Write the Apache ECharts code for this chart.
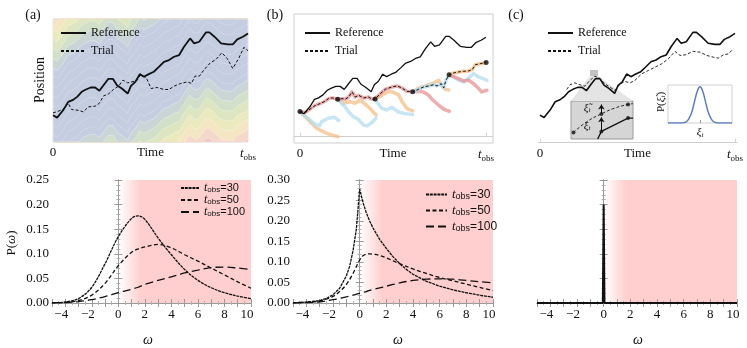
<!DOCTYPE html>
<html>
<head>
<meta charset="utf-8">
<script src="https://cdn.jsdelivr.net/npm/echarts@6/dist/echarts.min.js"></script>
<style>
html,body{margin:0;padding:0;background:#fff}
#main{width:747px;height:348px}
</style>
</head>
<body>
<div id="main"></div>
<script>
// reference path (time 0..100, position), shared by the three top panels
var refPath = [[0,21.7],[2.1,19.8],[5.2,25.8],[7.8,32.6],[10,34],[12.4,36.7],[14.7,40.8],[16.9,42.7],[19.3,44.3],[21.6,44.3],[23.8,41.6],[25.9,46.2],[28.4,51.4],[30.7,51.4],[32.8,46.2],[35.3,43.5],[38.3,39.4],[40,45.7],[42.2,48.9],[44.5,55.2],[46.6,53],[49.1,55.2],[51.7,57.1],[54.3,61.1],[56.9,65.2],[59.5,66.6],[62.1,69.3],[64.7,70.7],[67.2,77.4],[70.3,84.2],[72.4,80.2],[75,81.5],[78.4,89.1],[80.2,89.1],[82.8,85.6],[86.2,80.2],[89.7,79.3],[92.2,79.3],[94.5,83.4],[97.4,85.6],[100,88.3]];
var trialA = [[0,23.6],[2.6,25],[5.2,26.4],[7.8,31.5],[9.5,26.4],[12.9,25.8],[15.5,24.5],[18.1,28.5],[21.6,29.1],[23.8,31.5],[25.9,37.5],[28.4,39],[31,42.7],[33.6,45.4],[35.9,50.3],[38.3,48.1],[40.5,48.9],[43.1,50],[44.8,54.3],[47.8,52.4],[50.3,43.5],[53.4,44.3],[56.9,42.7],[59.5,42.7],[62.1,45.4],[65.5,47.6],[69,48.9],[71,47.6],[72.8,53.5],[75,53.5],[77.6,59],[80.7,64.4],[83.6,67.1],[86.6,72.6],[89.3,67.9],[92.2,59.8],[95.2,67.9],[97.9,77],[100,74.2]];
var trialC = [[13.7,42.6],[15.4,46.4],[17.9,48],[20.5,46.4],[23.1,45.3],[25.6,50],[28.2,53.5],[30.8,51.3],[33.3,47.2],[35.9,44.5],[38.5,41.8],[41,47.2],[43.6,49.1],[46.2,48],[48.7,50],[52.1,55.3],[55.6,58.1],[59,60.8],[62.4,63.5],[65.8,67.6],[69.2,73.6],[71.8,70.3],[74.4,70.8],[78.6,73.6],[82.1,73],[85.5,70.3],[88.9,68.9],[91.4,68.1],[94,70.8],[96.6,71.6],[99.1,75.7]];

// panel (b): branches from each resampling point
var seg1Red = [[0,21.7],[3,21],[5.5,24],[8,27],[11,29],[13.5,31],[15.5,33.5],[17.5,34],[20.3,32.8]];
var seg1Blue = [[0,21.7],[3.6,16.5],[6.3,12.7],[9,9.8],[10.5,9],[11.7,12.7],[15.2,15.8],[18.8,16.6],[20.8,13.6]];
var seg1Orange = [[0,21.7],[3.6,15.8],[6.3,11.3],[9,6.8],[11.7,4.4],[14.4,2.3],[17,0.8],[20.5,-0.7]];
var seg2Red = [[20.3,32.8],[22.6,33.3],[24.4,32.8],[26.2,34.8],[28,39.3],[29.7,34.8],[31.6,36.3],[34.2,33.9],[36.9,34.8],[38.7,32.8],[40.4,33]];
var seg2Orange = [[20.3,32.8],[23.3,29.2],[26.9,30.6],[29.6,29.2],[32.3,32.1],[34.9,28.6],[37.6,24.7],[40.9,18.7]];
var seg2Blue = [[20.3,32.8],[24.2,26.1],[26.5,20.8],[28.7,17.2],[31.3,14.9],[34.1,9.8],[36.2,8.9],[38.5,11.8],[40.9,15.8]];
var seg3Red = [[40.4,33],[43.2,37.8],[45.9,41.7],[49.5,43.8],[52.2,44.7],[54.8,42.9],[57.5,39.9],[60.6,39.5]];
var seg3Orange = [[40.4,33],[43,35.1],[45.7,38.1],[48,39.6],[49.5,39.3],[53,36.9],[54.8,31],[57.5,24.4],[60.6,22.3]];
var seg3Blue = [[40.4,33],[42.1,28.6],[43.9,24.7],[46.6,23.2],[49.3,25.6],[53,21.4],[56.6,19.9],[60.6,19]];
var seg4Blue = [[60.6,39.5],[63.8,41.7],[66.5,43.8],[69.2,44.7],[71.9,45.8],[73.7,44.7],[76,46.7],[77.3,42.9],[78.5,49.8],[80.2,54.7]];
var seg4Orange = [[60.6,39.5],[63.8,42.9],[67.4,44.7],[71,46.7],[74.6,49.8],[76.3,44.7],[78.1,41.7],[80,41]];
var seg4Red = [[60.6,39.5],[63.5,40],[66.5,39.3],[69.2,36.3],[71,32.8],[72.7,30.3],[74.6,27.4],[76.3,25.2],[78.1,23.2],[80.3,22]];
var seg5Orange = [[80.2,54.7],[82.6,56.3],[85.3,57.2],[88,57.8],[90.7,58.1],[92.8,59.6],[94.3,63.7],[96.9,64.6],[100.1,65.7]];
var seg5Blue = [[80.2,54.7],[82.6,52.7],[85.3,49.8],[88,48.3],[90.3,51.2],[93.4,55.7],[96.1,52.7],[100.5,49.8]];
var seg5Red = [[80.2,54.7],[85.3,51.2],[88,49.2],[90.7,49.8],[93.4,46.7],[96.1,42.3],[97.8,39.3],[100.5,40.8]];
var chosenB = [seg1Red, seg2Red, seg3Red, seg4Blue, seg5Orange];

// contour offsets of the panel (a) background (distance from the reference)
var lineLevels = [8, 16, 24, 32];
var bandLevels = [38, 46, 54, 62, 70, 78, 86];
var bandColors = ['#cad6d6', '#d2dfc9', '#dde6c1', '#ebeabf', '#f4e6c2', '#f4d8c9', '#f0cacb'];

// inset of (c)
var gaussX = [-6,-5,-4,-3,-2.5,-2,-1.5,-1,-0.5,0,0.5,1,1.5,2,2.5,3,4,5,6];
var gaussY = [0,0,0,0.01,0.04,0.14,0.32,0.61,0.88,1,0.88,0.61,0.32,0.14,0.04,0.01,0,0,0];
var schemTrial = [[0.4,1.7],[2.6,4.6],[4.9,6.6],[7,8.1],[9.2,9.1],[10,9.3]];
var schemRef = [[4.3,0],[4.9,2],[9.2,5.5],[10,5.5]];
var schemDots = [[0.4,1.7],[4.9,6.6],[9.2,9.1],[4.9,2],[9.2,5.5]];

// time axis labels
var timeTicks = [0, 50, 100];
var timeLabels = ['0', 'Time', 't_obs'];

// bottom panels: P(omega)
var omegaA = [-5,-4,-3,-2,-1,0,1,1.5,2,3,4,5,6,7,8,9,10];
var pA30 = [0.0005,0.002,0.009,0.032,0.080,0.135,0.172,0.177,0.170,0.132,0.098,0.068,0.046,0.031,0.021,0.014,0.009];
var pA50 = [0.0002,0.001,0.005,0.016,0.040,0.076,0.103,0.110,0.114,0.119,0.112,0.098,0.085,0.071,0.057,0.043,0.030];
var pA100 = [0.0002,0.001,0.003,0.007,0.013,0.021,0.028,0.032,0.038,0.046,0.053,0.061,0.067,0.072,0.073,0.071,0.068];
var omegaB30 = [-5,-4,-3,-2.5,-2,-1.5,-1,-0.75,-0.5,-0.25,0,0.25,0.5,0.75,1,1.5,2,2.5,3,3.5,4,5,6,7,8,9,10];
var pB30 = [0.0005,0.002,0.006,0.011,0.02,0.036,0.066,0.09,0.127,0.18,0.278,0.245,0.22,0.2,0.183,0.155,0.133,0.113,0.096,0.082,0.07,0.053,0.041,0.032,0.025,0.019,0.014];
var omegaB = [-5,-4,-3,-2,-1.5,-1,-0.5,0,0.25,0.5,0.75,1,1.5,2,3,4,5,6,7,8,9,10];
var pB50 = [0.0003,0.002,0.005,0.016,0.028,0.045,0.072,0.105,0.115,0.119,0.12,0.119,0.116,0.11,0.096,0.083,0.072,0.062,0.054,0.046,0.038,0.03];
var pB100 = [0.0002,0.001,0.003,0.008,0.011,0.015,0.019,0.024,0.026,0.028,0.031,0.033,0.037,0.041,0.049,0.055,0.058,0.059,0.058,0.055,0.052,0.049];
var omegaC = [-5,-0.06,0,0.06,10];
var pC = [0,0,0.2,0,0];

var serif = 'Liberation Serif', sans = 'Liberation Sans', ink = '#111';

function zip(xs, ys) { return xs.map(function (x, i) { return [x, ys[i]]; }); }

var subRich = {
  t: {fontFamily: serif, fontStyle: 'italic', fontSize: 13, color: ink, lineHeight: 16},
  s: {fontFamily: serif, fontSize: 9, color: ink, verticalAlign: 'bottom', lineHeight: 10}
};

function timeAxis(gi, min, max, lineColor) {
  return {
    type: 'value', gridIndex: gi, min: min, max: max, position: 'bottom',
    axisLine: {show: !!lineColor, lineStyle: {color: lineColor || '#ccc', width: 1}},
    axisTick: {show: !!lineColor, inside: true, length: 3, customValues: [0, 100], lineStyle: {color: lineColor || '#ccc'}},
    splitLine: {show: false},
    axisLabel: {
      show: true, customValues: timeTicks, margin: 4, color: ink, fontFamily: serif, fontSize: 13,
      formatter: function (v) {
        var s = timeLabels[timeTicks.indexOf(v)];
        return s === 't_obs' ? '{t|t}{s|obs}' : s;
      },
      rich: subRich
    }
  };
}
function hiddenAxis(gi, min, max) {
  return {type: 'value', gridIndex: gi, min: min, max: max, show: false};
}
function fmtOmega(v) {
  if (Math.round(v) % 2 !== 0) return '';
  var s = v < 0 ? '\u2212' + (-v) : String(v);
  return (v < 0 || v >= 10) ? '{p|' + s + '}' : s;
}
function omegaAxis(gi, pos) {
  return {
    type: 'value', gridIndex: gi, position: pos, min: -5, max: 10, interval: 1, z: 4,
    axisLine: {show: true, lineStyle: {color: '#9a9a9a', width: 1}},
    axisTick: {show: true, inside: true, length: 4, lineStyle: {color: '#9a9a9a'}},
    minorTick: {show: true, splitNumber: 2, length: 2, lineStyle: {color: '#b0b0b0'}},
    splitLine: {show: false},
    axisLabel: {
      show: pos === 'bottom', margin: 5, color: ink, fontFamily: serif, fontSize: 13,
      formatter: fmtOmega,
      rich: {p: {fontFamily: serif, fontSize: 13, color: ink, padding: [0, 8, 0, 0]}}
    }
  };
}
function probAxis(gi, pos, max, labels) {
  return {
    type: 'value', gridIndex: gi, position: pos, min: 0, max: max, interval: 0.05, z: 4,
    axisLine: {show: true, lineStyle: {color: '#9a9a9a', width: 1}},
    axisTick: {show: true, inside: true, length: 4, lineStyle: {color: '#9a9a9a'}},
    minorTick: {show: true, splitNumber: 5, length: 2, lineStyle: {color: '#b0b0b0'}},
    splitLine: {show: false},
    axisLabel: {
      show: labels, margin: 3, color: ink, fontFamily: serif, fontSize: 13,
      formatter: function (v) { return v.toFixed(2); }
    }
  };
}

var pinkFill = {
  type: 'linear', x: 0, y: 0, x2: 1, y2: 0,
  colorStops: [{offset: 0, color: 'rgba(255,207,207,0)'}, {offset: 0.17, color: '#ffcfcf'}, {offset: 1, color: '#ffcfcf'}]
};

var series = [];

// panel (a) background: filled contour bands that follow the reference
[1, -1].forEach(function (sign) {
  bandLevels.forEach(function (L, i) {
    series.push({
      type: 'line', xAxisIndex: 0, yAxisIndex: 0, silent: true, symbol: 'none', z: 2,
      data: refPath.map(function (p) { return [p[0], p[1] + sign * L]; }),
      lineStyle: {color: 'rgba(255,255,255,0.45)', width: 0.7},
      areaStyle: {color: bandColors[i], opacity: 1, origin: sign > 0 ? 'end' : 'start'}
    });
  });
  lineLevels.forEach(function (L) {
    series.push({
      type: 'line', xAxisIndex: 0, yAxisIndex: 0, silent: true, symbol: 'none', z: 2,
      data: refPath.map(function (p) { return [p[0], p[1] + sign * L]; }),
      lineStyle: {color: 'rgba(255,255,255,0.3)', width: 0.7}
    });
  });
});

function refSeries(ax, w) {
  return {name: 'Reference', type: 'line', xAxisIndex: ax, yAxisIndex: ax, symbol: 'none', z: 6,
    data: refPath, lineStyle: {color: ink, width: w}, itemStyle: {color: ink}};
}
function trialSeries(ax, data, w) {
  return {name: 'Trial', type: 'line', xAxisIndex: ax, yAxisIndex: ax, symbol: 'none', z: 7,
    data: data, lineStyle: {color: ink, width: w, type: [3, 2]}, itemStyle: {color: ink}};
}
series.push(refSeries(0, 1.8), trialSeries(0, trialA, 1));

// panel (b)
var branchSets = [
  {color: 'rgba(246,190,135,0.75)', segs: [seg1Orange, seg2Orange, seg3Orange, seg4Orange]},
  {color: 'rgba(180,220,238,0.75)', segs: [seg1Blue, seg2Blue, seg3Blue, seg5Blue]},
  {color: 'rgba(232,140,140,0.7)', segs: [seg4Red, seg5Red]},
  {color: 'rgba(232,140,140,0.7)', segs: [seg1Red, seg2Red, seg3Red]},
  {color: 'rgba(180,220,238,0.8)', segs: [seg4Blue]},
  {color: 'rgba(246,190,135,0.8)', segs: [seg5Orange]}
];
branchSets.forEach(function (b) {
  b.segs.forEach(function (seg) {
    series.push({type: 'line', xAxisIndex: 1, yAxisIndex: 1, symbol: 'none', silent: true, z: 3,
      data: seg, lineStyle: {color: b.color, width: 3.5, cap: 'round', join: 'round'}});
  });
});
var trialB = [];
chosenB.forEach(function (seg, k) { trialB = trialB.concat(k === 0 ? seg : seg.slice(1)); });
var dotsB = chosenB.map(function (seg) { return seg[0]; }).concat([chosenB[chosenB.length - 1].slice(-1)[0]]);
series.push(refSeries(1, 1.3), trialSeries(1, trialB, 1));
series.push({type: 'scatter', xAxisIndex: 1, yAxisIndex: 1, symbolSize: 5, z: 8,
  data: dotsB, itemStyle: {color: ink}});

// panel (c)
series.push(refSeries(2, 1.6), trialSeries(2, trialC, 0.9));
series.push({type: 'line', xAxisIndex: 3, yAxisIndex: 3, symbol: 'none', smooth: true,
  data: zip(gaussX, gaussY), lineStyle: {color: '#5b7fc0', width: 1.5}});
series.push({type: 'line', xAxisIndex: 4, yAxisIndex: 4, symbol: 'none', smooth: true,
  data: schemTrial, lineStyle: {color: ink, width: 0.9, type: [3, 2]}});
series.push({type: 'line', xAxisIndex: 4, yAxisIndex: 4, symbol: 'none',
  data: schemRef, lineStyle: {color: ink, width: 1.3}});
series.push({type: 'scatter', xAxisIndex: 4, yAxisIndex: 4, symbolSize: 4, data: schemDots,
  itemStyle: {color: ink},
  markLine: {silent: true, symbol: ['none', 'arrow'], symbolSize: 5, label: {show: false},
    lineStyle: {color: ink, width: 1, type: 'solid'},
    data: [[{coord: [4.9, 2]}, {coord: [4.9, 5.7]}], [{coord: [4.9, 6.6]}, {coord: [4.9, 9.1]}]]}});

// bottom panels
function pSeries(ax, name, data, dash, cusp) {
  return {name: name, type: 'line', xAxisIndex: ax, yAxisIndex: ax, symbol: 'none', z: 5,
    smooth: cusp ? false : 0.35, data: data, itemStyle: {color: ink},
    lineStyle: {color: ink, width: 1.3, type: dash}};
}
function shade(ax) {
  return {type: 'line', xAxisIndex: ax, yAxisIndex: ax, data: [], silent: true,
    markArea: {silent: true, itemStyle: {color: pinkFill}, data: [[{xAxis: 0}, {xAxis: 10}]]}};
}
var dash30 = [3, 0.8], dash50 = [4, 2.5], dash100 = [8, 4];
series.push(shade(5), shade(7), shade(9));
series.push(pSeries(5, 't_obs=30', zip(omegaA, pA30), dash30));
series.push(pSeries(5, 't_obs=50', zip(omegaA, pA50), dash50));
series.push(pSeries(5, 't_obs=100', zip(omegaA, pA100), dash100));
series.push(pSeries(7, 't_obs=30', zip(omegaB30, pB30), dash30, true));
series.push(pSeries(7, 't_obs=50', zip(omegaB, pB50), dash50));
series.push(pSeries(7, 't_obs=100', zip(omegaB, pB100), dash100));
series.push({type: 'line', xAxisIndex: 9, yAxisIndex: 9, symbol: 'none', z: 5,
  data: zip(omegaC, pC), lineStyle: {color: ink, width: 2}, areaStyle: {color: ink, opacity: 1}});

var noSymbol = {color: 'rgba(0,0,0,0)', borderColor: 'rgba(0,0,0,0)', borderWidth: 0};
function topLegend(left) {
  return {left: left, top: 22, orient: 'vertical', itemWidth: 25, itemHeight: 10, itemGap: 6,
    data: ['Reference', 'Trial'], selectedMode: false, itemStyle: noSymbol,
    textStyle: {fontFamily: serif, fontSize: 12, color: ink}};
}
function legRich(fs) {
  return {
    i: {fontFamily: serif, fontStyle: 'italic', fontSize: fs + 1, color: ink, lineHeight: fs + 1},
    s: {fontFamily: sans, fontSize: fs - 3, color: ink, verticalAlign: 'bottom', lineHeight: fs - 3},
    n: {fontFamily: sans, fontSize: fs, color: ink, lineHeight: fs + 1}
  };
}
function botLegend(left, top, fs, w, gap) {
  return {left: left, top: top, orient: 'vertical', itemWidth: w, itemHeight: 8, itemGap: gap,
    data: ['t_obs=30', 't_obs=50', 't_obs=100'], selectedMode: false, itemStyle: noSymbol,
    formatter: function (n) { return '{i|t}{s|obs}{n|=' + n.split('=')[1] + '}'; },
    textStyle: {fontFamily: sans, fontSize: fs, color: ink, rich: legRich(fs)}};
}

function txt(x, y, text, size, opts) {
  var o = {type: 'text', x: x, y: y, z: 20, silent: true,
    style: {text: text, fontFamily: serif, fontSize: size, fill: ink, align: 'center', verticalAlign: 'middle'}};
  if (opts) for (var k in opts) { if (k === 'style') { for (var j in opts.style) o.style[j] = opts.style[j]; } else o[k] = opts[k]; }
  return o;
}
var omegaRich = {
  n: {fontFamily: serif, fontSize: 13, fill: ink},
  w: {fontFamily: serif, fontSize: 13, fontStyle: 'italic', fill: ink}
};
var xiRich = {
  n: {fontFamily: serif, fontSize: 11, fill: ink},
  x: {fontFamily: serif, fontSize: 11, fontStyle: 'italic', fill: ink},
  s: {fontFamily: serif, fontSize: 7, fontStyle: 'italic', fill: ink, verticalAlign: 'bottom', lineHeight: 8}
};

var option = {
  animation: false,
  backgroundColor: '#fff',
  grid: [
    {left: 53, top: 19, width: 195, height: 123, show: true, backgroundColor: '#c5cde1', borderColor: '#e4e4e4', borderWidth: 1},
    {left: 294, top: 14, width: 199, height: 129, show: true, backgroundColor: 'transparent', borderColor: '#cfcfcf', borderWidth: 1},
    {left: 538, top: 19, width: 199, height: 124},
    {left: 668, top: 85, width: 64, height: 38, show: true, backgroundColor: '#fff', borderColor: '#cfcfcf', borderWidth: 1},
    {left: 571, top: 101, width: 62, height: 38, show: true, backgroundColor: '#d5d5d5', borderColor: '#9a9a9a', borderWidth: 1},
    {left: 52, top: 180, width: 199, height: 123},
    {left: 293, top: 180, width: 200, height: 123},
    {left: 537, top: 180, width: 200, height: 123}
  ].map(function (g) { g.containLabel = false; g.outerBoundsMode = 'none'; return g; }),
  xAxis: [
    timeAxis(0, 0, 100, null),
    timeAxis(1, -3.2, 103.8, '#cfcfcf'),
    timeAxis(2, -1, 101, '#cfcfcf'),
    {type: 'value', gridIndex: 3, min: -6, max: 6,
      axisLine: {show: false}, splitLine: {show: false},
      axisTick: {show: true, inside: true, length: 3, customValues: [0], lineStyle: {color: '#999'}},
      axisLabel: {show: true, customValues: [0], margin: 3, formatter: function () { return '{x|\u03be}{s|t}'; },
        rich: {x: {fontFamily: serif, fontSize: 11, fontStyle: 'italic', color: ink, lineHeight: 13},
          s: {fontFamily: serif, fontSize: 7, fontStyle: 'italic', color: ink, verticalAlign: 'bottom', lineHeight: 8}}}},
    hiddenAxis(4, 0, 10),
    omegaAxis(5, 'bottom'), omegaAxis(5, 'top'),
    omegaAxis(6, 'bottom'), omegaAxis(6, 'top'),
    omegaAxis(7, 'bottom'), omegaAxis(7, 'top')
  ],
  yAxis: [
    hiddenAxis(0, 0, 100),
    hiddenAxis(1, -6.4, 109.1),
    hiddenAxis(2, -1, 100),
    hiddenAxis(3, 0, 1.05),
    hiddenAxis(4, 0, 10),
    probAxis(5, 'left', 0.25, true), probAxis(5, 'right', 0.25, false),
    probAxis(6, 'left', 0.30, true), probAxis(6, 'right', 0.30, false),
    probAxis(7, 'left', 0.25, false), probAxis(7, 'right', 0.25, false)
  ],
  legend: [
    topLegend(55), topLegend(299), topLegend(542),
    botLegend(175, 177, 11, 18, 0),
    botLegend(420, 183, 12, 21, 3)
  ],
  graphic: {elements: [
    {type: 'polygon', z: 1, silent: true, shape: {points: [[590, 76], [598, 76], [633, 101], [571, 101]]}, style: {fill: '#e4e4e4'}},
    {type: 'rect', z: 1, silent: true, shape: {x: 590, y: 70, width: 8, height: 6}, style: {fill: '#c2c2c2'}},
    txt(33, 15, '(a)', 14), txt(275, 15, '(b)', 14), txt(516, 15, '(c)', 14),
    txt(40, 80, 'Position', 14, {rotation: Math.PI / 2}),
    txt(12, 243, '{n|P(}{w|\u03c9}{n|)}', 13, {rotation: Math.PI / 2, style: {rich: omegaRich}}),
    txt(148, 340, '\u03c9', 14, {style: {fontStyle: 'italic'}}),
    txt(398, 340, '\u03c9', 14, {style: {fontStyle: 'italic'}}),
    txt(638, 340, '\u03c9', 14, {style: {fontStyle: 'italic'}}),
    txt(661, 102, '{n|P(}{x|\u03be\u0303}{s|t}{n|)}', 11, {rotation: Math.PI / 2, style: {rich: xiRich}}),
    txt(587, 108, '{x|\u03be\u0303}{s|t}', 11, {style: {rich: xiRich}}),
    txt(587, 126, '{x|\u03be}{s|t}', 11, {style: {rich: xiRich}})
  ]},
  series: series
};

var myChart = echarts.init(document.getElementById('main'));
myChart.setOption(option);
</script>
</body>
</html>
